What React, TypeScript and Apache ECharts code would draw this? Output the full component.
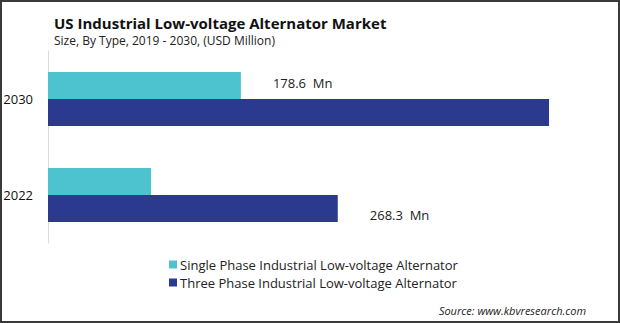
import React, { useEffect, useRef } from "react";
import * as echarts from "echarts";

const categories = ["2030", "2022"];
const seriesNames = [
  "Single Phase Industrial Low-voltage Alternator",
  "Three Phase Industrial Low-voltage Alternator",
];
const singlePhase = [178.6, 95.4];
const threePhase = [463.9, 268.3];
// which bars carry a value label
const singleLabelled = [true, false];
const threeLabelled = [false, true];

const FONT = "'Open Sans', 'Noto Sans', sans-serif";

export default function App() {
  const ref = useRef<HTMLDivElement>(null);
  useEffect(() => {
    if (!ref.current) return;
    const chart = echarts.init(ref.current, undefined, { renderer: "svg" });
    const mk = (vals: number[], flags: boolean[], offset: number[]) =>
      vals.map((v, i) =>
        flags[i]
          ? {
              value: v,
              label: {
                show: true,
                position: "right",
                distance: 32,
                offset,
                formatter: (p: any) => `${p.value}  Mn`,
                color: "#222",
                fontSize: 13,
                fontFamily: FONT,
              },
            }
          : { value: v }
      );
    chart.setOption({
      animation: false,
      textStyle: { fontFamily: FONT },
      title: [
        {
          text: "US Industrial Low-voltage Alternator Market",
          left: 49,
          top: 10,
          textStyle: { fontSize: 15, fontWeight: "bold", color: "#111", fontFamily: FONT },
        },
        {
          text: "Size, By Type, 2019 - 2030, (USD Million)",
          left: 49,
          top: 29,
          textStyle: { fontSize: 12, fontWeight: "normal", color: "#222", fontFamily: FONT },
        },
        {
          text: "Source: www.kbvresearch.com",
          right: 29,
          top: 300,
          textStyle: {
            fontSize: 11,
            fontStyle: "italic",
            fontWeight: "normal",
            color: "#222",
            fontFamily: FONT,
          },
        },
      ],
      legend: {
        orient: "vertical",
        left: 164,
        top: 253,
        itemWidth: 8,
        itemHeight: 8,
        itemGap: 5,
        icon: "rect",
        textStyle: { fontSize: 13, color: "#222", fontFamily: FONT, padding: [0, 0, 0, -2] },
        data: seriesNames,
      },
      grid: { left: 48, top: 51, width: 540, height: 192, containLabel: false },
      xAxis: {
        type: "value",
        min: 0,
        max: 500,
        show: false,
      },
      yAxis: {
        type: "category",
        inverse: true,
        data: categories,
        axisLine: { show: true, lineStyle: { color: "#d9d9d9", width: 1 } },
        axisTick: { show: false },
        axisLabel: { fontSize: 13, color: "#111", margin: 15, fontFamily: FONT },
      },
      series: [
        {
          name: seriesNames[0],
          type: "bar",
          barWidth: 27,
          barGap: "0%",
          itemStyle: { color: "#4EC3D0" },
          data: mk(singlePhase, singleLabelled, [0, -3]),
        },
        {
          name: seriesNames[1],
          type: "bar",
          barWidth: 27,
          barGap: "0%",
          itemStyle: { color: "#2B3A8F" },
          data: mk(threePhase, threeLabelled, [0, 6]),
        },
      ],
      graphic: [
        {
          type: "rect",
          shape: { x: 1, y: 1, width: 618, height: 321 },
          style: { fill: "none", stroke: "#3a3a3a", lineWidth: 2 },
          silent: true,
        },
      ],
    });
    return () => chart.dispose();
  }, []);
  return (
    <div
      ref={ref}
      style={{ position: "fixed", left: 0, top: 0, width: 620, height: 323, background: "#fff" }}
    />
  );
}
